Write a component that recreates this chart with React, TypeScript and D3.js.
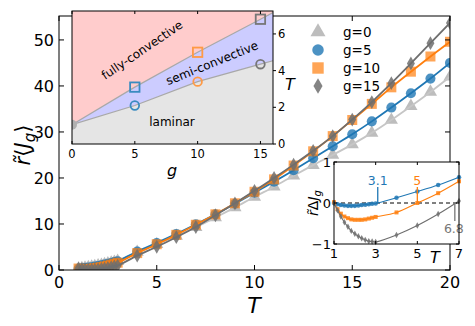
import React, { useEffect, useRef } from 'react';
import * as d3 from 'd3';

const W = 475;
const H = 326;

// temperatures: dense sampling 1..3 then integer steps
const tDense = [1, 1.17, 1.33, 1.5, 1.67, 1.83, 2, 2.17, 2.33, 2.5, 2.67, 2.83, 3];
const tMain = [...tDense, 4, 5, 6, 7, 8, 9, 10, 11, 12, 13, 14, 15, 16, 17, 18, 19, 20];
const tInset = [...tDense, 4, 5, 6, 7];

// main panel r~<J_g>
const j0 = [0.3, 0.38, 0.47, 0.57, 0.68, 0.8, 0.93, 1.07, 1.22, 1.38, 1.55, 1.73, 1.92,
  3.9, 5.6, 7.4, 9.3, 11.4, 13.6, 15.9, 18.1, 20.5, 22.8, 25.0, 27.3, 29.8, 32.6, 35.6, 38.7, 42.0];
const j5 = [0.3, 0.35, 0.42, 0.51, 0.61, 0.73, 0.86, 1.01, 1.17, 1.34, 1.52, 1.71, 1.91,
  4.03, 5.88, 7.84, 9.93, 12.1, 14.4, 16.8, 19.2, 21.7, 24.3, 26.9, 29.5, 32.3, 35.3, 38.4, 41.6, 45.0];
const j10 = [0.32, 0.23, 0.21, 0.24, 0.31, 0.4, 0.52, 0.66, 0.81, 0.98, 1.17, 1.37, 1.58,
  3.67, 5.6, 7.64, 9.83, 12.1, 14.5, 17.0, 19.7, 22.7, 25.8, 29.1, 32.6, 36.1, 39.7, 43.1, 46.4, 49.6];
const j15 = [0.3, 0.2, 0.14, 0.1, 0.1, 0.12, 0.18, 0.26, 0.36, 0.48, 0.62, 0.79, 0.97,
  3.12, 5.05, 7.13, 9.35, 11.9, 14.5, 17.2, 20.0, 22.9, 25.9, 29.1, 32.7, 36.5, 40.6, 44.9, 49.3, 53.7];

// lower-right inset r~ΔJ_g
const d5 = [0, -0.03, -0.05, -0.06, -0.07, -0.07, -0.07, -0.06, -0.05, -0.04, -0.03, -0.02, -0.012, 0.13, 0.28, 0.44, 0.63];
const d10 = [0.02, -0.15, -0.26, -0.33, -0.37, -0.4, -0.41, -0.41, -0.41, -0.4, -0.38, -0.36, -0.34, -0.23, 0.0, 0.24, 0.53];
const d15 = [0, -0.18, -0.33, -0.47, -0.58, -0.68, -0.75, -0.81, -0.86, -0.9, -0.93, -0.94, -0.95, -0.78, -0.55, -0.27, 0.05];

// phase diagram inset
const gPhase = [0, 5, 10, 15];
const tLaminar = [1.05, 2.1, 3.4, 4.35];
const tFull = [1.05, 3.1, 5.0, 6.8];

const xTicks = [0, 5, 10, 15, 20];
const yTicks = [0, 10, 20, 30, 40, 50];

const BLUE = '#1f77b4';
const ORANGE = '#ff7f0e';
const GRAY = '#6e6e6e';
const LGRAY = '#bdbdbd';

export default function App() {
  const ref = useRef<SVGSVGElement>(null);

  useEffect(() => {
    const svg = d3.select(ref.current);
    svg.selectAll('*').remove();

    // ---------- main panel ----------
    const x = d3.scaleLinear().domain([0, 20]).range([59, 450]);
    const y = d3.scaleLinear().domain([0, 55.2]).range([270, 16]);

    svg.append('clipPath').attr('id', 'mainclip')
      .append('rect').attr('x', 59).attr('y', 16).attr('width', 391).attr('height', 254);

    const series = [
      { name: 'g=0', v: j0, fill: LGRAY, line: '#c6c6c6', sym: d3.symbolTriangle, size: 75, op: 1 },
      { name: 'g=5', v: j5, fill: BLUE, line: BLUE, sym: d3.symbolCircle, size: 80, op: 0.8 },
      { name: 'g=10', v: j10, fill: ORANGE, line: ORANGE, sym: d3.symbolSquare, size: 100, op: 0.7 },
      { name: 'g=15', v: j15, fill: GRAY, line: GRAY, sym: d3.symbolDiamond, size: 55, op: 0.85 },
    ];

    const plot = svg.append('g').attr('clip-path', 'url(#mainclip)');
    series.forEach(s => {
      plot.selectAll(null).data(s.v).enter().append('path')
        .attr('d', d3.symbol().type(s.sym).size(s.size)())
        .attr('transform', (d, i) => `translate(${x(tMain[i])},${y(d)})`)
        .attr('fill', s.fill).attr('fill-opacity', s.op);
      const line = d3.line<number>().x((d, i) => x(tMain[i])).y(d => y(d)).curve(d3.curveCatmullRom);
      plot.append('path').attr('d', line(s.v)).attr('fill', 'none')
        .attr('stroke', s.line).attr('stroke-width', 1.8);
    });

    svg.append('rect').attr('x', 59).attr('y', 16).attr('width', 391).attr('height', 254)
      .attr('fill', 'none').attr('stroke', 'black').attr('stroke-width', 1);

    xTicks.forEach(t => {
      svg.append('line').attr('x1', x(t)).attr('x2', x(t)).attr('y1', 270).attr('y2', 265).attr('stroke', 'black');
      svg.append('line').attr('x1', x(t)).attr('x2', x(t)).attr('y1', 16).attr('y2', 21).attr('stroke', 'black');
      svg.append('text').attr('x', x(t)).attr('y', 288).attr('text-anchor', 'middle')
        .attr('font-size', 16).text(t);
    });
    yTicks.forEach(t => {
      svg.append('line').attr('x1', 59).attr('x2', 64).attr('y1', y(t)).attr('y2', y(t)).attr('stroke', 'black');
      svg.append('line').attr('x1', 450).attr('x2', 445).attr('y1', y(t)).attr('y2', y(t)).attr('stroke', 'black');
      svg.append('text').attr('x', 54).attr('y', y(t) + 6).attr('text-anchor', 'end')
        .attr('font-size', 16).text(t);
    });

    svg.append('text').attr('x', 254).attr('y', 313).attr('text-anchor', 'middle')
      .attr('font-size', 22).attr('font-style', 'italic').text('T');

    const yl = svg.append('text').attr('transform', 'translate(30,145) rotate(-90)')
      .attr('text-anchor', 'middle').attr('font-size', 21);
    yl.append('tspan').attr('font-style', 'italic').text('r\u0303');
    yl.append('tspan').text('\u27E8');
    yl.append('tspan').attr('font-style', 'italic').text('J');
    yl.append('tspan').attr('font-style', 'italic').attr('font-size', 15).attr('dy', 5).text('g');
    yl.append('tspan').attr('dy', -5).text('\u27E9');

    // legend
    series.forEach((s, i) => {
      const cy = 32 + i * 18;
      svg.append('path').attr('d', d3.symbol().type(s.sym).size(s.size * 1.3)())
        .attr('transform', `translate(318,${cy})`)
        .attr('fill', s.fill).attr('fill-opacity', s.op);
      svg.append('text').attr('x', 343).attr('y', cy + 5).attr('font-size', 13.5).text(s.name);
    });

    // ---------- phase-diagram inset ----------
    const px = d3.scaleLinear().domain([0, 16]).range([72, 273]);
    const py = d3.scaleLinear().domain([0, 7.25]).range([144, 11]);
    const extend = (arr: number[]) => {
      const n = arr.length;
      const slope = (arr[n - 1] - arr[n - 2]) / (gPhase[n - 1] - gPhase[n - 2]);
      return [...arr, arr[n - 1] + slope * (16 - gPhase[n - 1])];
    };
    const gExt = [...gPhase, 16];
    const lamExt = extend(tLaminar);
    const fullExt = extend(tFull);

    svg.append('clipPath').attr('id', 'phaseclip')
      .append('rect').attr('x', 72).attr('y', 11).attr('width', 201).attr('height', 133);
    const ph = svg.append('g').attr('clip-path', 'url(#phaseclip)');
    const area = d3.area<number>().x((d, i) => px(gExt[i]));
    ph.append('path').attr('fill', '#ffcccc')
      .attr('d', area.y0(d => py(d)).y1(() => py(7.25))(fullExt));
    ph.append('path').attr('fill', '#ccccff')
      .attr('d', d3.area<number>().x((d, i) => px(gExt[i])).y0((d, i) => py(lamExt[i])).y1(d => py(d))(fullExt));
    ph.append('path').attr('fill', '#e5e5e5')
      .attr('d', d3.area<number>().x((d, i) => px(gExt[i])).y0(() => py(0)).y1(d => py(d))(lamExt));
    const bline = d3.line<number>().x((d, i) => px(gExt[i])).y(d => py(d));
    [lamExt, fullExt].forEach(a => {
      ph.append('path').attr('d', bline(a)).attr('fill', 'none').attr('stroke', '#a8a8a8').attr('stroke-width', 1.2);
    });
    ph.append('circle').attr('cx', px(0)).attr('cy', py(tLaminar[0])).attr('r', 5).attr('fill', '#b0b0b0');
    const pcol = ['#bbbbbb', '#3a8bc0', '#ff9a45', '#777777'];
    gPhase.forEach((g, i) => {
      if (i === 0) return;
      ph.append('circle').attr('cx', px(g)).attr('cy', py(tLaminar[i])).attr('r', 4.3)
        .attr('fill', 'none').attr('stroke', pcol[i]).attr('stroke-width', 1.8);
      ph.append('rect').attr('x', px(g) - 4.7).attr('y', py(tFull[i]) - 4.7).attr('width', 9.4).attr('height', 9.4)
        .attr('fill', 'none').attr('stroke', pcol[i]).attr('stroke-width', 1.8);
    });
    ph.append('text').attr('transform', 'translate(142,50) rotate(-34)').attr('text-anchor', 'middle')
      .attr('dy', '0.35em').attr('font-size', 12).text('fully-convective');
    ph.append('text').attr('transform', 'translate(212,63) rotate(-22)').attr('text-anchor', 'middle')
      .attr('dy', '0.35em').attr('font-size', 12).text('semi-convective');
    ph.append('text').attr('x', 172).attr('y', 126).attr('text-anchor', 'middle')
      .attr('font-size', 12).text('laminar');

    svg.append('rect').attr('x', 72).attr('y', 11).attr('width', 201).attr('height', 133)
      .attr('fill', 'none').attr('stroke', 'black').attr('stroke-width', 1);
    [0, 5, 10, 15].forEach(g => {
      svg.append('line').attr('x1', px(g)).attr('x2', px(g)).attr('y1', 144).attr('y2', 141).attr('stroke', 'black');
      svg.append('line').attr('x1', px(g)).attr('x2', px(g)).attr('y1', 11).attr('y2', 14).attr('stroke', 'black');
      svg.append('text').attr('x', px(g)).attr('y', 158).attr('text-anchor', 'middle').attr('font-size', 11.5).text(g);
    });
    [0, 2, 4, 6].forEach(t => {
      svg.append('line').attr('x1', 273).attr('x2', 276).attr('y1', py(t)).attr('y2', py(t)).attr('stroke', 'black');
      svg.append('text').attr('x', 278).attr('y', py(t) + 4).attr('font-size', 11.5).text(t);
    });
    svg.append('text').attr('x', 172).attr('y', 176).attr('text-anchor', 'middle')
      .attr('font-size', 16).attr('font-style', 'italic').text('g');
    svg.append('text').attr('x', 290).attr('y', 90).attr('text-anchor', 'middle')
      .attr('font-size', 16).attr('font-style', 'italic').text('T');

    // ---------- difference inset ----------
    const ix = d3.scaleLinear().domain([1, 7]).range([334, 459]);
    const iy = d3.scaleLinear().domain([-1, 1]).range([244, 162]);
    svg.append('rect').attr('x', 334).attr('y', 162).attr('width', 125).attr('height', 82).attr('fill', 'white');
    svg.append('line').attr('x1', 334).attr('x2', 459).attr('y1', iy(0)).attr('y2', iy(0))
      .attr('stroke', 'black').attr('stroke-dasharray', '4,3').attr('stroke-width', 1);

    const inset = [
      { v: d5, color: BLUE, sym: d3.symbolCircle, size: 16 },
      { v: d10, color: ORANGE, sym: d3.symbolSquare, size: 16 },
      { v: d15, color: GRAY, sym: d3.symbolDiamond, size: 12 },
    ];
    inset.forEach(s => {
      const line = d3.line<number>().x((d, i) => ix(tInset[i])).y(d => iy(d)).curve(d3.curveCatmullRom);
      svg.append('path').attr('d', line(s.v)).attr('fill', 'none').attr('stroke', s.color).attr('stroke-width', 1.1);
      svg.selectAll(null).data(s.v).enter().append('path')
        .attr('d', d3.symbol().type(s.sym).size(s.size)())
        .attr('transform', (d, i) => `translate(${ix(tInset[i])},${iy(d)})`)
        .attr('fill', s.color).attr('fill-opacity', 0.85);
    });

    const notes = [
      { t: 3.1, label: '3.1', color: BLUE, up: true },
      { t: 5, label: '5', color: ORANGE, up: true },
      { t: 6.8, label: '6.8', color: '#777777', up: false },
    ];
    notes.forEach(n => {
      const y1 = n.up ? 187 : iy(0);
      const y2 = n.up ? iy(0) : 221;
      svg.append('line').attr('x1', ix(n.t)).attr('x2', ix(n.t)).attr('y1', y1).attr('y2', y2)
        .attr('stroke', n.color).attr('stroke-width', 1.3);
      svg.append('text').attr('x', n.up ? ix(n.t) : ix(n.t) - 1).attr('y', n.up ? 185 : 233)
        .attr('text-anchor', 'middle').attr('font-size', 12.5).attr('fill', n.color).text(n.label);
    });

    svg.append('rect').attr('x', 334).attr('y', 162).attr('width', 125).attr('height', 82)
      .attr('fill', 'none').attr('stroke', 'black').attr('stroke-width', 1);
    [1, 3, 5, 7].forEach(t => {
      svg.append('line').attr('x1', ix(t)).attr('x2', ix(t)).attr('y1', 244).attr('y2', 241).attr('stroke', 'black');
      svg.append('line').attr('x1', ix(t)).attr('x2', ix(t)).attr('y1', 162).attr('y2', 165).attr('stroke', 'black');
      svg.append('text').attr('x', ix(t)).attr('y', 258).attr('text-anchor', 'middle').attr('font-size', 13).text(t);
    });
    [-1, 0, 1].forEach(v => {
      svg.append('line').attr('x1', 334).attr('x2', 337).attr('y1', iy(v)).attr('y2', iy(v)).attr('stroke', 'black');
      svg.append('line').attr('x1', 459).attr('x2', 456).attr('y1', iy(v)).attr('y2', iy(v)).attr('stroke', 'black');
      svg.append('text').attr('x', 331).attr('y', iy(v) + 5).attr('text-anchor', 'end').attr('font-size', 13)
        .text(v < 0 ? '\u2212' + Math.abs(v) : String(v));
    });
    svg.append('text').attr('x', 435).attr('y', 263).attr('text-anchor', 'middle')
      .attr('font-size', 16).attr('font-style', 'italic').text('T');
    const il = svg.append('text').attr('transform', 'translate(318,203) rotate(-90)')
      .attr('text-anchor', 'middle').attr('font-size', 14);
    il.append('tspan').attr('font-style', 'italic').text('r\u0303');
    il.append('tspan').text('\u0394');
    il.append('tspan').attr('font-style', 'italic').text('J');
    il.append('tspan').attr('font-style', 'italic').attr('font-size', 10).attr('dy', 3).text('g');
  }, []);

  return (
    <svg ref={ref} width={W} height={H}
      style={{ position: 'absolute', left: 0, top: 0, background: 'white' }}
      fontFamily="DejaVu Sans" />
  );
}
